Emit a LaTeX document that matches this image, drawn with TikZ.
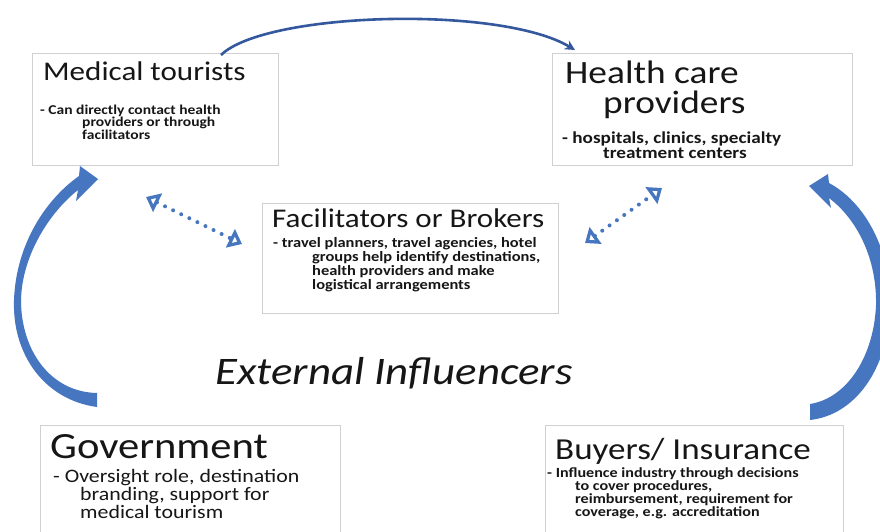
\documentclass[tikz,border=0pt]{standalone}
\usepackage{fontspec}
\setmainfont{Carlito}[FakeStretch=1.15]
\usetikzlibrary{arrows.meta,positioning,calc}
\definecolor{arrowblue}{RGB}{70,118,192}
\definecolor{arcblue}{RGB}{52,88,158}
\definecolor{boxline}{RGB}{208,208,208}
\definecolor{inktext}{RGB}{22,22,22}

\tikzset{
    box/.style={draw=boxline, line width=0.8pt, fill=white, inner sep=0pt},
    title/.style={anchor=base west, inner sep=0pt, text=inktext, align=left},
    bodytext/.style={anchor=base west, inner sep=0pt, text=inktext, align=left},
    dotarrow/.style={arrowblue, line width=4pt, line cap=round, dash pattern=on 0pt off 9pt,
        {Triangle[open, length=13pt, width=20pt, line width=5pt]}-{Triangle[open, length=13pt, width=20pt, line width=5pt]}},
    bigarrow/.style={fill=arrowblue, draw=none}
}

\begin{document}
\begin{tikzpicture}[x=1pt, y=-1pt]
    \clip (0,0) rectangle (880,531);
    \fill[white] (0,0) rectangle (880,531);

    % boxes
    \node[box, minimum width=246pt, minimum height=112pt] (tour) at (155,109) {};
    \node[box, minimum width=300pt, minimum height=112pt] (care) at (702,109) {};
    \node[box, minimum width=296pt, minimum height=110pt] (fac) at (410,258) {};
    \node[box, minimum width=300pt, minimum height=120pt] (gov) at (190,485) {};
    \node[box, minimum width=298pt, minimum height=120pt] (buy) at (694,485) {};

    % titles (base = last line)
    \node[title, font=\fontsize{27}{30}\selectfont] (tourT) at (43,80) {Medical tourists};
    \node[title, font=\fontsize{32.5}{30}\selectfont] (careT) at (565,113) {Health care\\\hspace*{38pt}providers};
    \node[title, font=\fontsize{27}{28}\selectfont] (facT) at (272,227) {Facilitators or Brokers};
    \node[title, font=\fontsize{37}{38}\selectfont] (govT) at (50,458) {Government};
    \node[title, font=\fontsize{30.5}{36}\selectfont] (buyT) at (555,459) {Buyers/ Insurance};

    % descriptions
    \node[bodytext, font=\fontsize{13.5}{12.5}\selectfont\bfseries] (tourB) at (40,139)
        {- Can directly contact health\\\hspace*{42pt}providers or through\\\hspace*{42pt}facilitators};
    \node[bodytext, font=\fontsize{16.7}{15}\selectfont\bfseries] (careB) at (562,158)
        {- hospitals, clinics, specialty\\\hspace*{41pt}treatment centers};
    \node[bodytext, font=\fontsize{14.3}{14}\selectfont\bfseries] (facB) at (273,289)
        {- travel planners, travel agencies, hotel\\\hspace*{39pt}groups help identify destinations,\\\hspace*{39pt}health providers and make\\\hspace*{39pt}logistical arrangements};
    \node[bodytext, font=\fontsize{19}{18}\selectfont] (govB) at (53,518)
        {- Oversight role, destination\\\hspace*{27pt}branding, support for\\\hspace*{27pt}medical tourism};
    \node[bodytext, font=\fontsize{14}{13}\selectfont\bfseries] (buyB) at (547,516)
        {- Influence industry through decisions\\\hspace*{28pt}to cover procedures,\\\hspace*{28pt}reimbursement, requirement for\\\hspace*{28pt}coverage, e.g. accreditation};

    \node[title, font=\fontsize{39}{40}\selectfont\itshape] (ext) at (215,384) {External Influencers};

    % top arc
    \coordinate (arcA) at (221,55);
    \coordinate (arcB) at (575,50);
    \draw[arcblue, line width=2.6pt, -{Stealth[length=10pt, width=10pt]}]
        (arcA) .. controls (265,12) and (500,5) .. (arcB);

    % dotted two-way arrows
    \coordinate (dl1) at (146,197);
    \coordinate (dl2) at (242,244);
    \coordinate (dr1) at (585,243);
    \coordinate (dr2) at (662,188);
    \draw[dotarrow] (dl1) -- (dl2);
    \draw[dotarrow] (dr1) -- (dr2);

    % left big arrow
    \fill[bigarrow] (97,407) .. controls (45,400) and (12,355) .. (14,300)
        .. controls (16,245) and (45,200) .. (79,176) -- (80,166) -- (98,179) -- (76,201) -- (78,190)
        .. controls (50,212) and (22,255) .. (21,300)
        .. controls (21,350) and (50,392) .. (97,393) -- cycle;

    % right big arrow
    \fill[bigarrow] (810,404) .. controls (848,398) and (874,355) .. (876,305)
        .. controls (877,260) and (858,220) .. (829,198) -- (831,208) -- (809,186) -- (828,174) -- (829,183)
        .. controls (870,205) and (893,260) .. (890,310)
        .. controls (887,370) and (855,415) .. (810,420) -- cycle;
\end{tikzpicture}
\end{document}
